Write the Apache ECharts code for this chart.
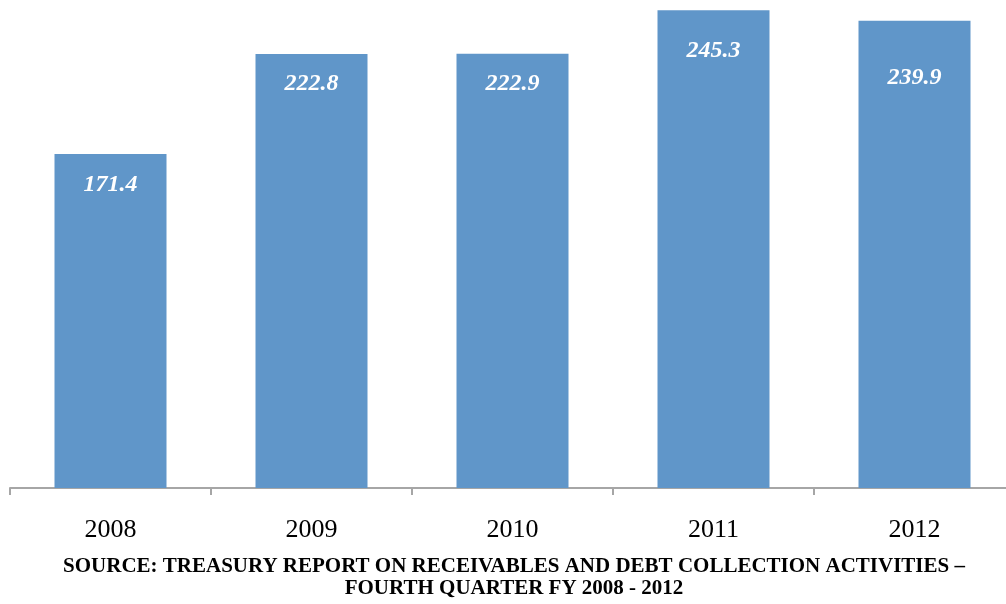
<!DOCTYPE html>
<html>
<head>
<meta charset="utf-8">
<script src="https://cdn.jsdelivr.net/npm/echarts@6/dist/echarts.min.js"></script>
<style>
  html, body { margin: 0; padding: 0; background: #ffffff; }
  #chart { width: 1006px; height: 604px; }
</style>
</head>
<body>
<div id="chart"></div>
<script>
// Fiscal years and amounts (billions of dollars)
const years = ['2008', '2009', '2010', '2011', '2012'];
const amounts = [171.4, 222.8, 222.9, 245.3, 239.9];
const sourceLines = [
  'SOURCE: TREASURY REPORT ON RECEIVABLES AND DEBT COLLECTION ACTIVITIES \u2013',
  'FOURTH QUARTER FY 2008 - 2012'
];

// distance of each value label's centre below its bar top
const labelDrop = [31, 30, 30, 41, 57];

const serif = '"Liberation Serif", "Times New Roman", serif';

const chart = echarts.init(document.getElementById('chart'), null, { renderer: 'canvas' });

chart.setOption({
  animation: false,
  backgroundColor: '#ffffff',
  graphic: sourceLines.map((line, i) => ({
    type: 'text',
    x: 514,
    y: 567 + i * 22,
    style: {
      text: line,
      fontFamily: serif,
      fontWeight: 'bold',
      fontSize: 21,
      fill: '#000000',
      textAlign: 'center',
      textVerticalAlign: 'middle'
    }
  })),
  grid: {
    left: 10,
    width: 1005,
    top: 1,
    bottom: 116,
    containLabel: false,
    outerBoundsMode: 'none'
  },
  xAxis: {
    type: 'category',
    data: years,
    boundaryGap: true,
    axisLine: { lineStyle: { color: '#a6a6a6', width: 2 } },
    axisTick: { show: true, length: 7, lineStyle: { color: '#a6a6a6', width: 2 } },
    axisLabel: {
      fontFamily: serif,
      fontSize: 26,
      color: '#000000',
      margin: 29
    }
  },
  yAxis: {
    type: 'value',
    min: 0,
    max: 250,
    show: false,
    splitLine: { show: false }
  },
  series: [{
    type: 'bar',
    barWidth: 112,
    data: amounts.map((v, i) => ({
      value: v,
      label: { position: ['50%', labelDrop[i]] }
    })),
    itemStyle: { color: '#6096c9' },
    label: {
      show: true,
      align: 'center',
      verticalAlign: 'middle',
      fontFamily: serif,
      fontStyle: 'italic',
      fontWeight: 'bold',
      fontSize: 24,
      color: '#ffffff',
      formatter: p => p.value.toFixed(1)
    }
  }]
});
</script>
</body>
</html>
